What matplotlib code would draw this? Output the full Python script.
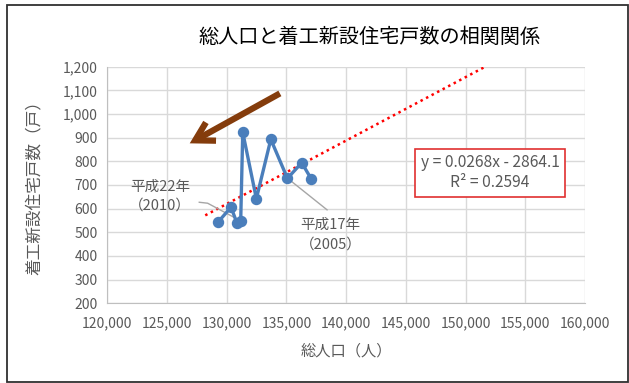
import numpy as np
import matplotlib.pyplot as plt
from matplotlib.patches import Rectangle

plt.rcParams['font.family'] = ['Noto Sans CJK JP', 'DejaVu Sans']

# 総人口（人）と着工新設住宅戸数（戸）, 年順
jinko = [137060, 136280, 135080, 133690, 132480, 131340, 131170, 130840, 130360, 129300]
kosu = [727, 794, 728, 893, 642, 923, 549, 541, 606, 545]

# 近似直線 (グラフ中の式)
KATAMUKI = 0.0268
SEPPEN = -2864.1
R2 = 0.2594
TREND_START = 128200

X_TICKS = np.arange(120000, 160001, 5000)
Y_TICKS = np.arange(200, 1201, 100)

BLUE = '#4A7EBB'
GRAY_TXT = '#595959'

fig = plt.figure(figsize=(6.29, 3.83), dpi=100)
ax = fig.add_axes([0.1706, 0.2081, 0.7595, 0.6178])

# 外枠
fig.patches.append(Rectangle((7 / 629, 1 / 383), 621 / 629, 377 / 383,
                             transform=fig.transFigure, fill=False,
                             edgecolor='#303030', linewidth=1.3))

# 近似直線
xt = np.linspace(TREND_START, 160000, 200)
ax.plot(xt, KATAMUKI * xt + SEPPEN, color='red', linestyle=(0, (1, 1.5)),
        linewidth=1.8, zorder=2)

# 散布図 (線付き)
ax.plot(jinko, kosu, color=BLUE, linewidth=2.4, marker='o', markersize=7.2,
        zorder=3)

ax.set_xlim(120000, 160000)
ax.set_ylim(200, 1200)
ax.set_xticks(X_TICKS)
ax.set_yticks(Y_TICKS)
ax.set_xticklabels([f'{v:,}' for v in X_TICKS])
ax.set_yticklabels([f'{v:,}' for v in Y_TICKS])
ax.tick_params(length=0, labelsize=10, colors=GRAY_TXT)
ax.tick_params(axis='x', pad=9)
ax.tick_params(axis='y', pad=7)
ax.grid(True, color='#D9D9D9', linewidth=1)
ax.set_axisbelow(True)
for s in ['top', 'right']:
    ax.spines[s].set_visible(False)
for s in ['left', 'bottom']:
    ax.spines[s].set_color('#BFBFBF')

ax.set_xlabel('総人口（人）', fontsize=11, color=GRAY_TXT, labelpad=9)
ax.set_ylabel('着工新設住宅戸数（戸）', fontsize=12, color=GRAY_TXT, labelpad=5)
ax.yaxis.set_label_coords(-0.135, 0.505)
fig.text(0.588, 0.903, '総人口と着工新設住宅戸数の相関関係', fontsize=14.5,
         ha='center', va='center', color='black')

# 年のラベル
ax.text(124400, 652, '平成22年\n（2010）', fontsize=10.5, color=GRAY_TXT,
        ha='center', va='center', linespacing=1.45)
ax.plot([127700, 128400, 131100], [627, 623, 550], color='#A6A6A6', linewidth=1)
ax.text(138700, 490, '平成17年\n（2005）', fontsize=10.5, color=GRAY_TXT,
        ha='center', va='center', linespacing=1.45)
ax.plot([135300, 138400], [720, 595], color='#A6A6A6', linewidth=1)

# 式のボックス
ax.text(152050, 752, f'y = {KATAMUKI}x - {-SEPPEN}\nR² = {R2}', fontsize=11.2,
        color=GRAY_TXT, ha='center', va='center', linespacing=1.25,
        bbox=dict(boxstyle='square,pad=0.35', facecolor='white',
                  edgecolor='#E03030', linewidth=1.2))

# 矢印
ax.annotate('', xy=(126900, 876), xytext=(134450, 1087),
            arrowprops=dict(arrowstyle='->,head_length=1.3,head_width=0.75',
                            color='#843C0C', linewidth=4.5, shrinkA=0, shrinkB=0,
                            capstyle='butt', joinstyle='miter'))

fig.savefig('out.png', dpi=100)
